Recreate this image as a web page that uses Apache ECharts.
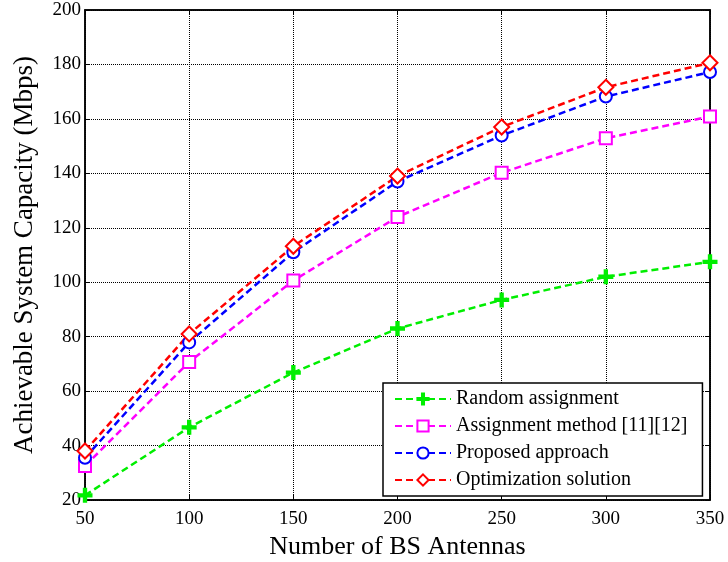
<!DOCTYPE html>
<html>
<head>
<meta charset="utf-8">
<script src="https://cdn.jsdelivr.net/npm/echarts@6/dist/echarts.min.js"></script>
<style>
  html, body { margin: 0; padding: 0; background: #fff; }
  #chart { width: 728px; height: 562px; }
</style>
</head>
<body>
<div id="chart"></div>
<script>
// number of BS antennas
const antennas = [50, 100, 150, 200, 250, 300, 350]

// capacity values (Mbps)
const randomAssign = [21.7, 46.7, 66.8, 83, 93.5, 102, 107.5]
const assignMethod = [32.5, 70.7, 100.6, 124, 140.2, 152.9, 160.9]
const proposed = [35.5, 77.9, 111, 137, 153.9, 168.2, 177.2]
const optimization = [38, 81, 113.2, 139, 157, 171.6, 180.6]

const seriesNames = ['Random assignment', 'Assignment method [11][12]', 'Proposed approach', 'Optimization solution']

const font = 'Liberation Serif, Times New Roman, serif'
const plusPath = 'path://M4.1,0h1.8v10h-1.8z M0,4.1h10v1.8h-10z'

const toPairs = vals => antennas.map((a, i) => [a, vals[i]])

const chart = echarts.init(document.getElementById('chart'))

const lineSeries = (name, vals, color, symbol, size) => ({
  name,
  type: 'line',
  data: toPairs(vals),
  symbol,
  symbolSize: size,
  showSymbol: true,
  lineStyle: { color, width: 2.5, type: [7, 4] },
  itemStyle: { color, borderColor: color, borderWidth: 2 },
  emphasis: { disabled: true },
  z: 3
})

const option = {
  animation: false,
  backgroundColor: '#fff',
  textStyle: { fontFamily: font },
  grid: {
    left: 85, right: 18, top: 10, bottom: 62,
    outerBoundsMode: 'none',
    containLabel: false,
    show: true, borderColor: '#000', borderWidth: 1.5, backgroundColor: 'transparent'
  },
  legend: {
    orient: 'vertical',
    left: 383,
    top: 383,
    backgroundColor: '#fff',
    borderColor: '#000',
    borderWidth: 1.5,
    borderRadius: 0,
    padding: [6, 15, 6, 11],
    itemGap: 7,
    itemWidth: 56,
    itemHeight: 14,
    textStyle: { fontFamily: font, fontSize: 20, color: '#000' },
    data: seriesNames
  },
  xAxis: [
    {
      type: 'value',
      min: 50, max: 350, interval: 50,
      name: 'Number of BS Antennas',
      nameLocation: 'middle',
      nameGap: 32,
      nameTextStyle: { fontFamily: font, fontSize: 26, color: '#000' },
      axisLine: { show: true, lineStyle: { color: '#000', width: 1.5 } },
      axisTick: { show: true, inside: true, length: 5, lineStyle: { color: '#000' } },
      axisLabel: { fontFamily: font, fontSize: 19, color: '#000', margin: 10 },
      splitLine: { show: true, lineStyle: { color: '#000', type: [1, 1], width: 1 } }
    },
    {
      type: 'value', position: 'top',
      min: 50, max: 350, interval: 50,
      axisLine: { show: true, lineStyle: { color: '#000', width: 1.5 } },
      axisTick: { show: true, inside: true, length: 5, lineStyle: { color: '#000' } },
      axisLabel: { show: false },
      splitLine: { show: false }
    }
  ],
  yAxis: [
    {
      type: 'value',
      min: 20, max: 200, interval: 20,
      name: 'Achievable System Capacity (Mbps)',
      nameLocation: 'middle',
      nameGap: 47,
      nameTextStyle: { fontFamily: font, fontSize: 27, color: '#000' },
      axisLine: { show: true, lineStyle: { color: '#000', width: 1.5 } },
      axisTick: { show: true, inside: true, length: 5, lineStyle: { color: '#000' } },
      axisLabel: { fontFamily: font, fontSize: 19, color: '#000', margin: 4 },
      splitLine: { show: true, lineStyle: { color: '#000', type: [1, 1], width: 1 } }
    },
    {
      type: 'value', position: 'right',
      min: 20, max: 200, interval: 20,
      axisLine: { show: true, lineStyle: { color: '#000', width: 1.5 } },
      axisTick: { show: true, inside: true, length: 5, lineStyle: { color: '#000' } },
      axisLabel: { show: false },
      splitLine: { show: false }
    }
  ],
  series: [
    lineSeries(seriesNames[0], randomAssign, '#00ee00', plusPath, 13),
    lineSeries(seriesNames[1], assignMethod, '#ff00ff', 'emptyRect', 12),
    lineSeries(seriesNames[2], proposed, '#0000ff', 'emptyCircle', 12),
    lineSeries(seriesNames[3], optimization, '#ff0000', 'emptyDiamond', 15)
  ]
}

chart.setOption(option)
</script>
</body>
</html>
